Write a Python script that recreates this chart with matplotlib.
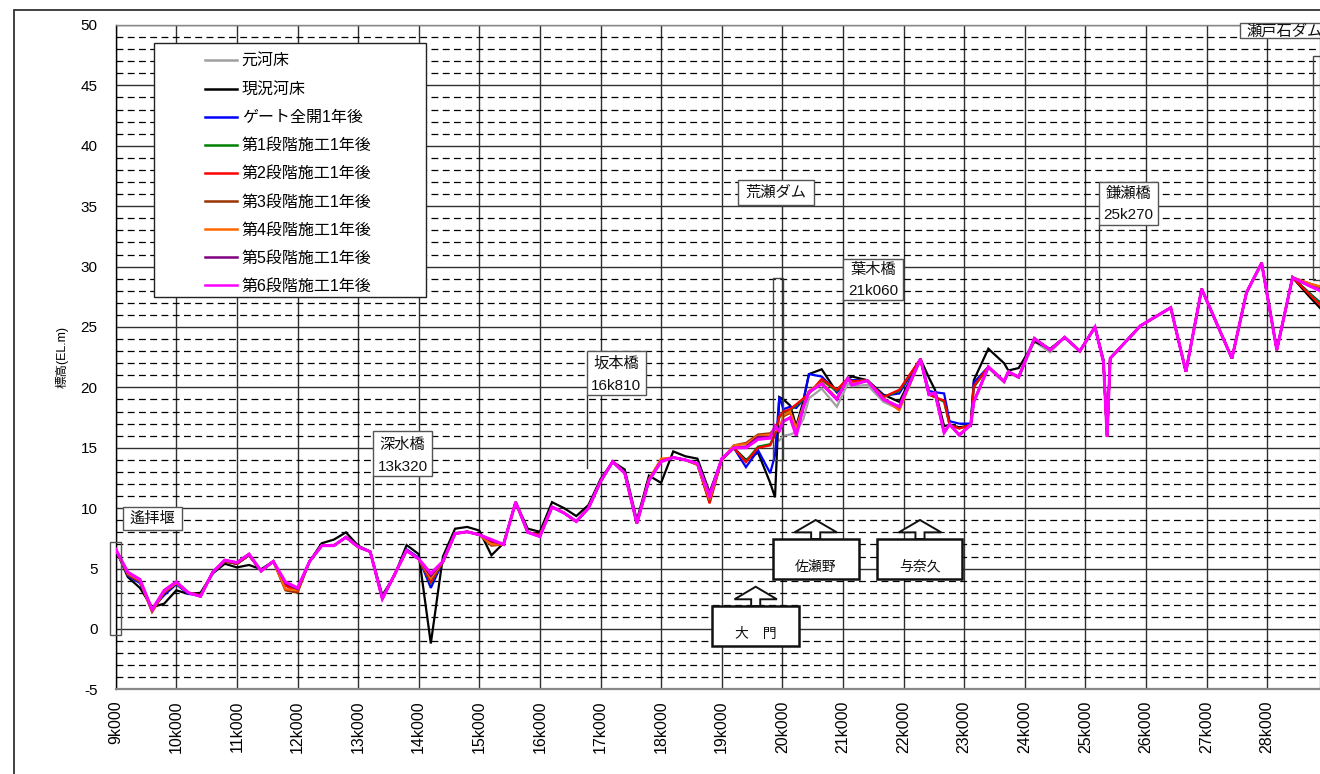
import matplotlib
matplotlib.use("Agg")
import matplotlib.pyplot as plt
from matplotlib.patches import Rectangle, Polygon
from matplotlib.ticker import MultipleLocator, FixedLocator, FuncFormatter

plt.rcParams['font.family'] = ['Liberation Sans', 'Noto Sans CJK JP']
plt.rcParams['axes.unicode_minus'] = False

# ---- data: distance along river (m) and bed elevation (EL.m) ----
stations = [
    9000, 9200, 9400, 9600, 9800, 10000, 10200, 10400, 10600, 10800,
    11000, 11200, 11400, 11600, 11800, 12000, 12200, 12400, 12600, 12800,
    13000, 13200, 13400, 13600, 13800, 14000, 14200, 14400, 14600, 14800,
    15000, 15200, 15400, 15600, 15800, 16000, 16200, 16400, 16600, 16800,
    17000, 17200, 17400, 17600, 17800, 18000, 18200, 18400, 18600, 18800,
    19000, 19200, 19400, 19600, 19800, 19880, 19950, 20020, 20130, 20230,
    20350, 20440, 20650, 20900, 21080, 21150, 21400, 21670, 21930, 22280,
    22420, 22520, 22670, 22760, 22920, 23110, 23160, 23400, 23660, 23730,
    23900, 24160, 24420, 24660, 24910, 25160, 25300, 25360, 25410, 25910,
    26410, 26660, 26920, 27420, 27660, 27910, 28160, 28420, 28700, 29000,
]

original_bed = [
    6.6, 4.6, 4.0, 1.6, 3.1, 3.8, 3.0, 2.7, 4.7, 5.6,
    5.5, 6.2, 4.8, 5.6, 3.8, 3.3, 5.6, 6.9, 6.9, 7.6,
    6.8, 6.4, 2.5, 4.5, 6.5, 5.8, 4.5, 5.6, 7.9, 8.05,
    7.8, 7.4, 7.0, 10.5, 8.0, 7.65, 10.1, 9.6, 8.9, 10.0,
    12.2, 13.85, 12.9, 8.75, 12.3, 13.85, 14.2, 14.0, 13.7, 11.3,
    14.1, 15.0, 15.0, 15.7, 15.8, 16.0, 15.6, 16.0, 16.1, 16.3,
    17.4, 19.1, 19.9, 18.4, 20.3, 20.1, 20.2, 18.8, 18.2, 22.35,
    19.4, 19.55, 16.25, 16.95, 16.05, 16.9, 18.8, 21.6, 20.4, 21.2,
    20.8, 23.8, 22.9, 24.15, 23.0, 25.0, 22.1, 15.9, 22.4, 25.1,
    26.6, 21.3, 28.15, 22.4, 27.85, 30.3, 23.1, 29.1, 28.4, 27.8,
]

current_bed = [
    6.6, 4.3, 3.4, 1.8, 2.1, 3.2, 2.9, 3.0, 4.6, 5.4,
    5.1, 5.3, 4.95, 5.6, 3.7, 3.2, 5.6, 7.1, 7.4, 8.0,
    6.9, 6.4, 2.8, 4.4, 6.95, 6.2, -1.2, 6.0, 8.3, 8.45,
    8.15, 6.1, 7.1, 10.5, 8.3, 8.05, 10.5, 10.0, 9.35, 10.25,
    12.4, 13.85, 13.2, 9.0, 12.7, 12.1, 14.7, 14.3, 14.1, 11.3,
    14.0, 15.0, 14.0, 14.6, 12.1, 10.9, 19.2, 19.0, 18.5, 16.8,
    18.9, 21.1, 21.5, 19.6, 20.75, 20.9, 20.6, 19.4, 18.8, 22.35,
    20.8, 19.8, 16.8, 16.9, 16.7, 16.8, 20.6, 23.2, 22.0, 21.4,
    21.6, 23.8, 23.2, 24.15, 23.0, 25.0, 22.3, 15.9, 22.4, 25.1,
    26.6, 21.3, 28.15, 22.4, 27.85, 30.3, 23.1, 29.1, 27.5, 25.9,
]

gate_open = [
    6.6, 4.4, 3.8, 1.7, 2.8, 3.7, 2.9, 2.8, 4.6, 5.6,
    5.4, 6.1, 4.8, 5.6, 3.7, 3.2, 5.6, 6.9, 6.9, 7.6,
    6.8, 6.4, 2.6, 4.5, 6.6, 5.9, 3.4, 5.6, 7.9, 8.05,
    7.8, 7.3, 7.0, 10.5, 8.0, 7.8, 10.1, 9.6, 8.9, 10.0,
    12.2, 13.85, 12.9, 8.8, 12.3, 13.9, 14.2, 14.0, 13.7, 11.0,
    14.0, 15.0, 13.4, 14.8, 12.9, 14.4, 19.2, 18.2, 18.4, 18.3,
    19.0, 21.1, 20.9, 19.6, 20.75, 20.6, 20.6, 19.3, 19.5, 22.35,
    19.7, 19.6, 19.5, 17.2, 17.0, 17.0, 20.4, 21.7, 20.5, 21.3,
    20.85, 24.05, 23.1, 24.15, 23.0, 25.0, 22.1, 15.9, 22.4, 25.1,
    26.6, 21.3, 28.15, 22.4, 27.85, 30.3, 23.1, 29.1, 27.8, 26.5,
]

stage1 = [
    6.6, 4.5, 4.0, 1.5, 3.1, 3.8, 3.0, 2.8, 4.7, 5.6,
    5.4, 6.1, 4.8, 5.6, 3.6, 3.2, 5.6, 6.9, 6.9, 7.6,
    6.8, 6.4, 2.5, 4.5, 6.5, 5.8, 3.8, 5.6, 7.9, 8.05,
    7.8, 7.2, 7.0, 10.5, 8.0, 7.8, 10.1, 9.6, 8.9, 10.0,
    12.2, 13.85, 12.9, 8.75, 12.3, 13.9, 14.2, 14.0, 13.6, 10.5,
    14.0, 15.0, 13.9, 15.1, 15.3, 16.1, 17.5, 17.9, 18.1, 18.5,
    19.0, 19.5, 20.6, 19.7, 20.75, 20.5, 20.6, 19.2, 19.7, 22.35,
    19.4, 19.2, 18.8, 16.9, 16.6, 16.9, 20.0, 21.7, 20.5, 21.3,
    20.85, 24.05, 23.1, 24.15, 23.0, 25.0, 22.1, 15.9, 22.4, 25.1,
    26.6, 21.3, 28.15, 22.4, 27.85, 30.3, 23.1, 29.1, 27.8, 26.4,
]

stage2 = [
    6.6, 4.5, 4.0, 1.6, 3.0, 3.8, 3.0, 2.8, 4.7, 5.6,
    5.4, 6.1, 4.8, 5.6, 3.6, 3.1, 5.6, 6.9, 6.9, 7.6,
    6.8, 6.4, 2.5, 4.5, 6.5, 5.8, 3.9, 5.6, 7.9, 8.05,
    7.8, 7.2, 7.0, 10.5, 8.0, 7.8, 10.1, 9.6, 8.9, 10.0,
    12.2, 13.85, 12.9, 8.75, 12.3, 13.9, 14.2, 14.0, 13.6, 10.4,
    14.0, 15.0, 13.8, 15.0, 15.2, 16.1, 17.6, 18.0, 18.2, 18.6,
    19.1, 19.5, 20.7, 19.8, 20.75, 20.5, 20.6, 19.2, 19.8, 22.35,
    19.4, 19.2, 18.9, 16.9, 16.6, 16.9, 20.1, 21.7, 20.5, 21.3,
    20.85, 24.05, 23.1, 24.15, 23.0, 25.0, 22.1, 15.9, 22.4, 25.1,
    26.6, 21.3, 28.15, 22.4, 27.85, 30.3, 23.1, 29.1, 27.7, 26.2,
]

stage3 = [
    6.6, 4.5, 3.9, 1.4, 3.0, 3.8, 3.0, 2.7, 4.7, 5.6,
    5.4, 6.1, 4.8, 5.6, 3.2, 3.0, 5.6, 6.9, 6.9, 7.6,
    6.8, 6.4, 2.5, 4.5, 6.5, 5.8, 4.1, 5.5, 7.9, 8.05,
    7.8, 6.9, 7.0, 10.5, 8.0, 7.7, 10.1, 9.6, 8.9, 10.0,
    12.2, 13.85, 12.9, 8.75, 12.4, 14.0, 14.2, 14.0, 13.6, 10.6,
    14.0, 15.2, 15.4, 16.1, 16.2, 16.6, 16.5, 17.6, 17.9, 16.7,
    18.5, 19.7, 20.4, 19.1, 20.75, 20.3, 20.55, 19.1, 18.2, 22.35,
    19.4, 19.5, 16.3, 16.95, 16.1, 16.9, 18.8, 21.7, 20.5, 21.3,
    20.85, 24.05, 23.1, 24.15, 23.0, 25.0, 22.1, 15.9, 22.4, 25.1,
    26.6, 21.3, 28.15, 22.4, 27.85, 30.3, 23.1, 29.1, 28.6, 28.1,
]

stage4 = [
    6.6, 4.6, 4.0, 1.5, 3.1, 3.8, 3.0, 2.7, 4.7, 5.7,
    5.5, 6.2, 4.8, 5.6, 3.3, 3.2, 5.6, 6.9, 6.9, 7.6,
    6.8, 6.4, 2.5, 4.5, 6.5, 5.8, 4.2, 5.6, 7.9, 8.05,
    7.8, 7.0, 7.0, 10.5, 8.0, 7.7, 10.1, 9.6, 8.9, 10.0,
    12.2, 13.85, 12.9, 8.75, 12.4, 14.1, 14.2, 14.0, 13.6, 10.7,
    14.0, 15.2, 15.3, 16.0, 16.1, 16.5, 16.4, 17.7, 18.0, 16.6,
    18.5, 19.7, 20.4, 19.1, 20.75, 20.3, 20.55, 19.1, 18.1, 22.35,
    19.4, 19.5, 16.3, 16.95, 16.1, 16.9, 18.8, 21.7, 20.5, 21.3,
    20.85, 24.05, 23.1, 24.15, 23.0, 25.0, 22.1, 15.9, 22.4, 25.1,
    26.6, 21.3, 28.15, 22.4, 27.85, 30.3, 23.1, 29.1, 28.6, 28.2,
]

stage5 = [
    6.6, 4.7, 4.1, 1.6, 3.2, 3.9, 3.0, 2.7, 4.7, 5.7,
    5.5, 6.2, 4.8, 5.6, 3.8, 3.3, 5.6, 6.9, 6.9, 7.6,
    6.8, 6.4, 2.5, 4.5, 6.5, 5.8, 4.4, 5.6, 7.9, 8.05,
    7.8, 7.3, 7.0, 10.5, 8.0, 7.65, 10.1, 9.6, 8.9, 10.0,
    12.2, 13.85, 12.9, 8.75, 12.3, 13.9, 14.2, 14.0, 13.7, 11.2,
    14.1, 15.0, 15.1, 15.9, 15.9, 16.7, 16.4, 17.2, 17.5, 16.1,
    18.4, 19.6, 20.3, 19.0, 20.75, 20.2, 20.55, 19.0, 18.4, 22.35,
    19.4, 19.55, 16.25, 16.95, 16.05, 16.9, 18.8, 21.7, 20.5, 21.3,
    20.85, 24.05, 23.1, 24.15, 23.0, 25.0, 22.1, 15.9, 22.4, 25.1,
    26.6, 21.3, 28.15, 22.4, 27.85, 30.3, 23.1, 29.1, 28.4, 27.9,
]

stage6 = [
    6.6, 4.7, 4.1, 1.6, 3.2, 3.9, 3.0, 2.7, 4.7, 5.7,
    5.5, 6.2, 4.8, 5.6, 3.9, 3.4, 5.6, 6.9, 6.9, 7.6,
    6.8, 6.4, 2.5, 4.5, 6.5, 5.8, 4.6, 5.6, 7.9, 8.05,
    7.8, 7.4, 7.0, 10.5, 8.0, 7.65, 10.1, 9.6, 8.9, 10.0,
    12.2, 13.85, 12.9, 8.75, 12.3, 13.85, 14.2, 14.0, 13.7, 11.0,
    14.1, 15.0, 15.0, 15.7, 15.8, 16.8, 16.4, 17.2, 17.5, 16.0,
    18.4, 19.6, 20.3, 19.0, 20.75, 20.2, 20.55, 19.0, 18.4, 22.35,
    19.4, 19.55, 16.25, 16.95, 16.05, 16.9, 18.8, 21.7, 20.5, 21.3,
    20.85, 24.05, 23.1, 24.15, 23.0, 25.0, 22.1, 15.9, 22.4, 25.1,
    26.6, 21.3, 28.15, 22.4, 27.85, 30.3, 23.1, 29.1, 28.4, 27.7,
]

series_labels = ['元河床', '現況河床', 'ゲート全開1年後', '第1段階施工1年後',
                 '第2段階施工1年後', '第3段階施工1年後', '第4段階施工1年後',
                 '第5段階施工1年後', '第6段階施工1年後']
series_values = [original_bed, current_bed, gate_open, stage1, stage2,
                 stage3, stage4, stage5, stage6]
series_colors = ['#a0a0a0', '#000000', '#0000ff', '#008000', '#ff0000',
                 '#993300', '#ff6600', '#800080', '#ff00ff']
series_widths = [1.6, 1.6, 1.6, 1.6, 1.6, 1.6, 1.6, 1.6, 2.2]

x_ticks = list(range(9000, 29000, 1000))

# ---- figure ----
W, H = 1320, 774
fig = plt.figure(figsize=(W / 100, H / 100), dpi=100)
ax_l, ax_r, ax_t, ax_b = 115.7, 1320.0, 25.0, 689.4
ax = fig.add_axes([ax_l / W, 1 - ax_b / H, (ax_r - ax_l) / W, (ax_b - ax_t) / H])

x_min = 9000
x_max = 9000 + (ax_r - ax_l) / 60.6 * 1000
ax.set_xlim(x_min, x_max)
ax.set_ylim(-5, 50)

for vals, lab, col, lw in zip(series_values, series_labels, series_colors, series_widths):
    ax.plot(stations, vals, color=col, lw=lw, label=lab, zorder=3,
            solid_joinstyle='miter')

# grid
ax.xaxis.set_major_locator(FixedLocator(x_ticks))
ax.yaxis.set_major_locator(MultipleLocator(5))
ax.yaxis.set_minor_locator(MultipleLocator(1))
ax.grid(which='major', axis='both', color='#303030', lw=1.0, zorder=1)
ax.grid(which='minor', axis='y', color='#000000', lw=0.9,
        linestyle=(0, (5.5, 3.5)), zorder=1)
ax.set_axisbelow(True)

ax.xaxis.set_major_formatter(FuncFormatter(lambda v, p: f"{int(v) // 1000}k{int(v) % 1000:03d}"))
ax.tick_params(axis='x', which='both', length=0, pad=8, labelsize=11.5, labelrotation=90)
ax.tick_params(axis='y', which='both', length=0, pad=13, labelsize=11)

for s in ('top', 'right'):
    ax.spines[s].set_color('#888888')
    ax.spines[s].set_linewidth(1.0)
ax.spines['bottom'].set_color('#888888')
ax.spines['bottom'].set_linewidth(1.6)
ax.spines['left'].set_color('#000000')
ax.spines['left'].set_linewidth(1.0)

ax.set_ylabel('標高(EL.m)', fontsize=9, labelpad=9)

# outer chart frame
fig.add_artist(Rectangle((14 / W, -0.2), 1.5, (H - 10) / H + 0.2,
                         transform=fig.transFigure, fill=False,
                         ec='#333333', lw=1.3))

# legend with its own frame (drawn inside the axes so it sits under the entries)
ax.add_patch(Rectangle((154 / W, 1 - 297 / H), (426 - 154) / W, (297 - 43) / H,
                       transform=fig.transFigure, fc='white', ec='#222222',
                       lw=1.0, zorder=5, clip_on=False))
leg = ax.legend(loc='upper left', bbox_to_anchor=(205 / W, 1 - 54 / H),
                bbox_transform=fig.transFigure, frameon=False, fontsize=11.5,
                handlelength=2.0, handletextpad=0.3, labelspacing=0.82,
                borderpad=0, borderaxespad=0)
leg.set_zorder(9)
for line in leg.get_lines():
    line.set_linewidth(1.8)

TXT = dict(fontsize=11, color='#111111', zorder=8)


def label_box(x0, x1, y0, y1, lines, ys):
    ax.add_patch(Rectangle((x0, y0), x1 - x0, y1 - y0, fc='white', ec='#555555',
                           lw=1.0, zorder=7, clip_on=False))
    for t, yy in zip(lines, ys):
        ax.text((x0 + x1) / 2, yy, t, ha='center', va='center', clip_on=False, **TXT)


def leader(x, y0, y1):
    ax.plot([x, x], [y0, y1], color='#333333', lw=1.0, zorder=6, clip_on=False)


# weir / bridges / dams
ax.add_patch(Rectangle((8908, -0.5), 175, 7.73, fill=False, ec='#555555', lw=1.0,
                       zorder=6, clip_on=False))
label_box(9116, 10094, 8.2, 10.1, ['遙拝堰'], [9.15])

label_box(13246, 14220, 12.7, 16.35, ['深水橋', '13k320'], [15.25, 13.45])
leader(13246, 12.7, 6.7)

label_box(16772, 17751, 19.37, 23.0, ['坂本橋', '16k810'], [21.95, 20.15])
leader(16772, 19.37, 13.3)

label_box(19274, 20528, 35.1, 37.17, ['荒瀬ダム'], [36.1])
ax.add_patch(Rectangle((19851, 14.0), 166, 15.05, fill=False, ec='#444444', lw=1.0,
                       zorder=6))

label_box(21007, 21987, 27.23, 30.63, ['葉木橋', '21k060'], [29.72, 27.95])
leader(21007, 27.23, 21.2)

label_box(25227, 26201, 33.44, 37.0, ['鎌瀬橋', '25k270'], [36.05, 34.25])
leader(25227, 33.44, 26.16)

ax.add_patch(Rectangle((27556, 48.9), 2000, 1.25, fc='white', ec='#555555', lw=1.0,
                       zorder=7, clip_on=False))
ax.text(27660, 49.5, '瀬戸石ダム', ha='left', va='center', clip_on=False, **TXT)
ax.add_patch(Rectangle((28760, 28.9), 300, 18.5, fill=False, ec='#444444', lw=1.0,
                       zorder=6, clip_on=False))


def place_marker(cx, bx0, bx1, by0, by1, peak, head, text, ty):
    hw, sw = 350, 75
    pts = [(cx - sw, by1), (cx - sw, head), (cx - hw, head), (cx, peak),
           (cx + hw, head), (cx + sw, head), (cx + sw, by1)]
    ax.add_patch(Polygon(pts, closed=True, fc='white', ec='#111111', lw=1.4, zorder=7))
    ax.add_patch(Rectangle((bx0, by0), bx1 - bx0, by1 - by0, fc='white',
                           ec='#111111', lw=1.8, zorder=7))
    ax.text(cx, ty, text, ha='center', va='center', fontsize=10,
            color='#111111', zorder=8)


place_marker(19561, 18841, 20277, -1.41, 1.90, 3.50, 2.46, '大　門', -0.45)
place_marker(20551, 19851, 21271, 4.14, 7.45, 9.02, 8.0, '佐瀬野', 5.16)
place_marker(22272, 21558, 22965, 4.14, 7.45, 9.02, 8.0, '与奈久', 5.16)

fig.savefig('out.png', dpi=100)
